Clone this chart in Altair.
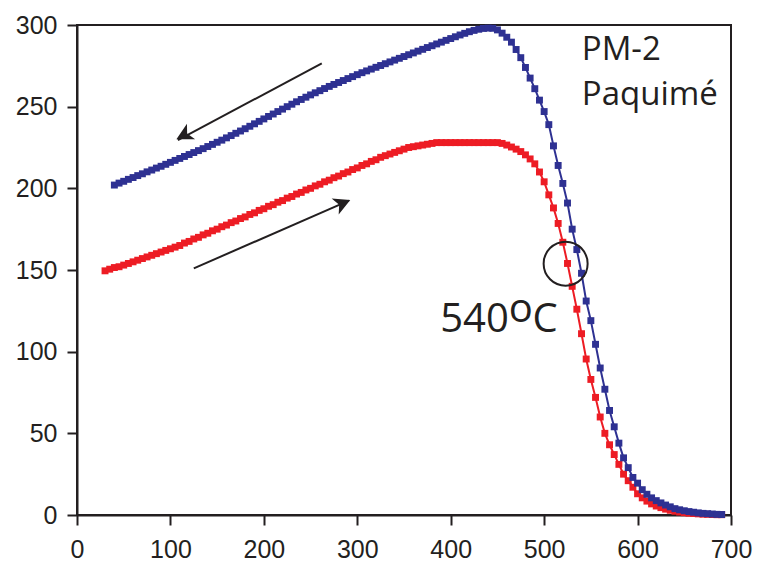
import altair as alt
import pandas as pd

# Heating run (red), temperature in degC and magnetisation
heat_temp = list(range(30, 695, 5))
heat_mag = [
    149.5, 150.5, 151.5, 152, 153, 154, 155, 156, 157, 158,
    159, 160, 161, 162, 163, 164, 165, 166.5, 167.5, 169,
    170, 171.5, 172.5, 174, 175, 176.5, 177.5, 179, 180, 181.5,
    182.5, 184, 185, 186.5, 187.5, 189, 190, 191.5, 192.5, 194,
    195, 196.5, 197.5, 199, 200, 201.5, 202.5, 204, 205, 206.5,
    207.5, 209, 210, 211.5, 212.5, 214, 215, 216.5, 217.5, 219,
    220, 221, 222, 223, 224, 225, 225.5, 226, 226.5, 227,
    227.5, 228, 228, 228, 228, 228, 228, 228, 228, 228,
    228, 228, 228, 228, 228, 227.5, 226.5, 225.3, 224, 222.5,
    220.5, 218, 215, 210, 204, 196, 188, 178.5, 167, 154,
    140, 126, 111, 95.5, 83, 72, 60, 50, 43, 37,
    31, 25, 21, 17, 13, 10.5, 8.5, 6.8, 5.5, 4.5,
    3.6, 2.9, 2.3, 1.8, 1.4, 1.1, 0.9, 0.7, 0.5, 0.4,
    0.3, 0.2, 0.2,
]

# Cooling run (blue)
cool_temp = list(range(40, 695, 5))
cool_mag = [
    202, 203.2, 204.3, 205.5, 206.6, 207.8, 208.9, 210.1, 211.2, 212.4,
    213.5, 214.7, 215.9, 217.1, 218.3, 219.5, 220.7, 221.9, 223.1, 224.3,
    225.6, 226.9, 228.2, 229.5, 230.9, 232.3, 233.7, 235.1, 236.5, 238,
    239.5, 241, 242.5, 244, 245.5, 247, 248.5, 250, 251.5, 253,
    254.4, 255.8, 257.2, 258.5, 259.8, 261.1, 262.4, 263.6, 264.8, 266,
    267.2, 268.4, 269.6, 270.8, 271.9, 273, 274.1, 275.2, 276.3, 277.4,
    278.5, 279.6, 280.7, 281.8, 282.9, 284, 285.1, 286.2, 287.3, 288.4,
    289.5, 290.6, 291.7, 292.8, 293.9, 294.9, 295.9, 296.7, 297.4, 297.9,
    298.1, 298, 297, 295, 292.5, 289.5, 285, 280, 274, 267.5,
    261, 254, 247, 239, 226, 214, 203, 191, 175, 162.5,
    148, 131, 119, 104.5, 90, 77, 64, 54, 44, 35,
    29, 23, 19.5, 15.5, 12.7, 10.5, 8.8, 7.4, 6.1, 5,
    3.9, 3.2, 2.6, 2.1, 1.7, 1.3, 1.0, 0.8, 0.6, 0.4,
    0.3,
]

x_ticks = [0, 100, 200, 300, 400, 500, 600, 700]
y_ticks = [0, 50, 100, 150, 200, 250, 300]

RED = "#ed1c24"
BLUE = "#2e3192"
INK = "#231f20"

heat = pd.DataFrame({"T": heat_temp, "M": heat_mag})
cool = pd.DataFrame({"T": cool_temp, "M": cool_mag})

x_enc = alt.X("T:Q", scale=alt.Scale(domain=[0, 700], nice=False),
              axis=alt.Axis(values=x_ticks, title=None, labelFlush=False))
y_enc = alt.Y("M:Q", scale=alt.Scale(domain=[0, 300], nice=False),
              axis=alt.Axis(values=y_ticks, title=None, labelFlush=False))


def series(df, color):
    base = alt.Chart(df).encode(x=x_enc, y=y_enc)
    line = base.mark_line(color=color, strokeWidth=2)
    pts = base.mark_point(shape="square", filled=True, color=color, size=48, opacity=1)
    return line + pts


# Arrows (annotation, in data units)
arrows = pd.DataFrame({
    "T": [262.0, 125.0], "M": [276.5, 151.0],
    "T2": [108.0, 291.0], "M2": [229.5, 192.5],
})
heads = pd.DataFrame({"T": [106.4, 292.5], "M": [230.1, 192.9], "ang": [242.4, 66.4]})

arrow_lines = alt.Chart(arrows).mark_rule(color=INK, strokeWidth=2).encode(
    x="T:Q", y="M:Q", x2="T2:Q", y2="M2:Q")
arrow_heads = alt.Chart(heads).mark_point(
    shape="M0,0 L0.8,1.5 L0,1.1 L-0.8,1.5 Z", filled=True, color=INK, size=484, opacity=1
).encode(x="T:Q", y="M:Q", angle=alt.Angle("ang:Q", scale=None))

circle = alt.Chart(pd.DataFrame({"T": [523.0], "M": [153.9]})).mark_point(
    shape="circle", filled=False, size=1936, stroke=INK, strokeWidth=2, opacity=1
).encode(x="T:Q", y="M:Q")

labels = pd.DataFrame({
    "T": [540.3, 540.3, 388.8, 462.0, 487.5],
    "M": [278.6, 251.1, 112.2, 118.0, 112.2],
    "txt": ["PM-2", "Paquimé", "540", "o", "C"],
    "fs": [33, 33, 40, 40, 40],
})
texts = alt.Chart(labels).mark_text(
    align="left", baseline="alphabetic", font="Open Sans", color=INK
).encode(x="T:Q", y="M:Q", text="txt:N", size=alt.Size("fs:Q", scale=None))

chart = alt.layer(
    series(heat, RED),
    series(cool, BLUE),
    arrow_lines,
    arrow_heads,
    circle,
    texts,
).properties(
    width=654, height=490,
    autosize=alt.AutoSizeParams(type="none"),
    padding={"left": 77, "top": 25, "right": 29, "bottom": 55},
    background="white",
).configure_view(
    stroke=INK, strokeWidth=2
).configure_axis(
    grid=False, domainColor=INK, domainWidth=2, tickColor=INK, tickWidth=2,
    tickSize=10, labelFont="Liberation Sans", labelFontSize=25, labelColor=INK,
).configure_axisX(labelPadding=12).configure_axisY(labelPadding=10)

chart.save("out.html", embed_options={"renderer": "svg", "actions": False})
